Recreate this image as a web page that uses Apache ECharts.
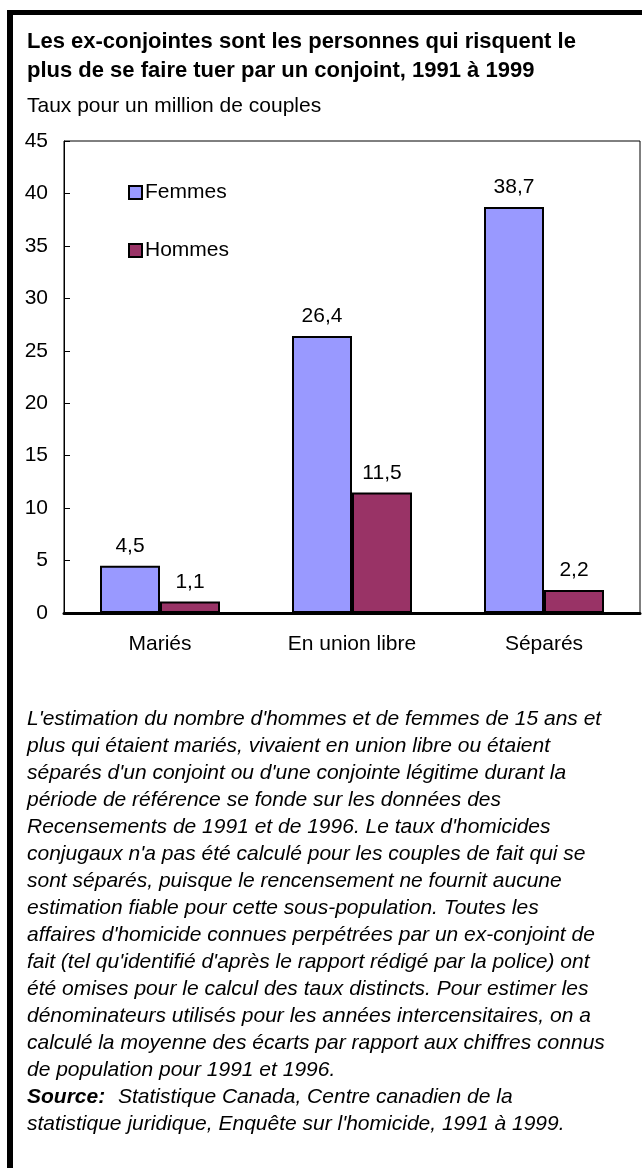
<!DOCTYPE html>
<html>
<head>
<meta charset="utf-8">
<script src="https://cdn.jsdelivr.net/npm/echarts@6/dist/echarts.min.js"></script>
<style>
  html, body { margin: 0; padding: 0; background: #fff; }
  #chart { width: 642px; height: 1168px; }
</style>
</head>
<body>
<div id="chart"></div>
<script>
  // Taux pour un million de couples, 1991 à 1999
  const categories = ['Mariés', 'En union libre', 'Séparés'];
  const femmes = [4.5, 26.4, 38.7];
  const hommes = [1.1, 11.5, 2.2];
  const yTicks = { min: 0, max: 45, interval: 5 };

  const titleLines = [
    'Les ex-conjointes sont les personnes qui risquent le',
    'plus de se faire tuer par un conjoint, 1991 à 1999',
  ];
  const subtitle = 'Taux pour un million de couples';
  const noteLines = [
    "L'estimation du nombre d'hommes et de femmes de 15 ans et",
    "plus qui étaient mariés, vivaient en union libre ou étaient",
    "séparés d'un conjoint ou d'une conjointe légitime durant la",
    "période de référence se fonde sur les données des",
    "Recensements de 1991 et de 1996. Le taux d'homicides",
    "conjugaux n'a pas été calculé pour les couples de fait qui se",
    "sont séparés, puisque le rencensement ne fournit aucune",
    "estimation fiable pour cette sous-population. Toutes les",
    "affaires d'homicide connues perpétrées par un ex-conjoint de",
    "fait (tel qu'identifié d'après le rapport rédigé par la police) ont",
    "été omises pour le calcul des taux distincts. Pour estimer les",
    "dénominateurs utilisés pour les années intercensitaires, on a",
    "calculé la moyenne des écarts par rapport aux chiffres connus",
    "de population pour 1991 et 1996.",
  ];
  const sourceLines = [
    'Statistique Canada, Centre canadien de la',
    "statistique juridique, Enquête sur l'homicide, 1991 à 1999.",
  ];

  const font = '"Liberation Sans", Arial, Helvetica, sans-serif';
  const chart = echarts.init(document.getElementById('chart'));

  const fmt = (p) => String(p.value).replace('.', ',');

  const noteTop = 709;
  const noteGraphics = noteLines.map((line, i) => ({
    type: 'text',
    left: 27,
    top: noteTop + i * 27,
    style: { text: line, font: 'italic 21px ' + font, fill: '#000' },
  }));
  const sourceY = noteTop + noteLines.length * 27;

  const option = {
    animation: false,
    backgroundColor: '#fff',
    textStyle: { fontFamily: font },
    grid: {
      left: 64,
      right: 2,
      top: 141,
      bottom: 555,
      show: true,
      borderColor: '#000',
      borderWidth: 1,
      backgroundColor: 'transparent',
    },
    legend: {
      orient: 'vertical',
      left: 123,
      top: 177,
      itemGap: 37,
      itemWidth: 13,
      itemHeight: 13,
      icon: 'rect',
      textStyle: { fontSize: 21, color: '#000', padding: [0, 0, 0, -2] },
      data: ['Femmes', 'Hommes'],
    },
    xAxis: {
      type: 'category',
      data: categories,
      axisLine: { lineStyle: { color: '#000', width: 3 } },
      axisTick: { show: false },
      axisLabel: { fontSize: 21, color: '#000', margin: 21 },
    },
    yAxis: {
      type: 'value',
      min: yTicks.min,
      max: yTicks.max,
      interval: yTicks.interval,
      axisLine: { show: true, lineStyle: { color: '#000', width: 1 } },
      axisTick: { show: true, inside: true, length: 6, lineStyle: { color: '#000' } },
      splitLine: { show: false },
      axisLabel: { fontSize: 21, color: '#000', margin: 16 },
    },
    series: [
      {
        name: 'Femmes',
        type: 'bar',
        data: femmes,
        barWidth: 60,
        barGap: '0%',
        itemStyle: { color: '#9999FF', borderColor: '#000', borderWidth: 2 },
        label: { show: true, position: 'top', distance: 9, fontSize: 21, color: '#000', formatter: fmt },
      },
      {
        name: 'Hommes',
        type: 'bar',
        data: hommes,
        barWidth: 60,
        itemStyle: { color: '#993366', borderColor: '#000', borderWidth: 2 },
        label: { show: true, position: 'top', distance: 9, fontSize: 21, color: '#000', formatter: fmt },
      },
    ],
    graphic: [
      // cadre
      { type: 'rect', shape: { x: 7, y: 10, width: 6, height: 1158 }, style: { fill: '#000' } },
      { type: 'rect', shape: { x: 7, y: 10, width: 635, height: 5 }, style: { fill: '#000' } },
      {
        type: 'text', left: 27, top: 31,
        style: { text: titleLines[0], font: 'bold 22px ' + font, fill: '#000' },
      },
      {
        type: 'text', left: 27, top: 60,
        style: { text: titleLines[1], font: 'bold 22px ' + font, fill: '#000' },
      },
      {
        type: 'text', left: 27, top: 96,
        style: { text: subtitle, font: '21px ' + font, fill: '#000' },
      },
      ...noteGraphics,
      {
        type: 'text', left: 27, top: sourceY,
        style: { text: 'Source:', font: 'italic bold 21px ' + font, fill: '#000' },
      },
      {
        type: 'text', left: 118, top: sourceY,
        style: { text: sourceLines[0], font: 'italic 21px ' + font, fill: '#000' },
      },
      {
        type: 'text', left: 27, top: sourceY + 27,
        style: { text: sourceLines[1], font: 'italic 21px ' + font, fill: '#000' },
      },
    ],
  };

  chart.setOption(option);
</script>
</body>
</html>
